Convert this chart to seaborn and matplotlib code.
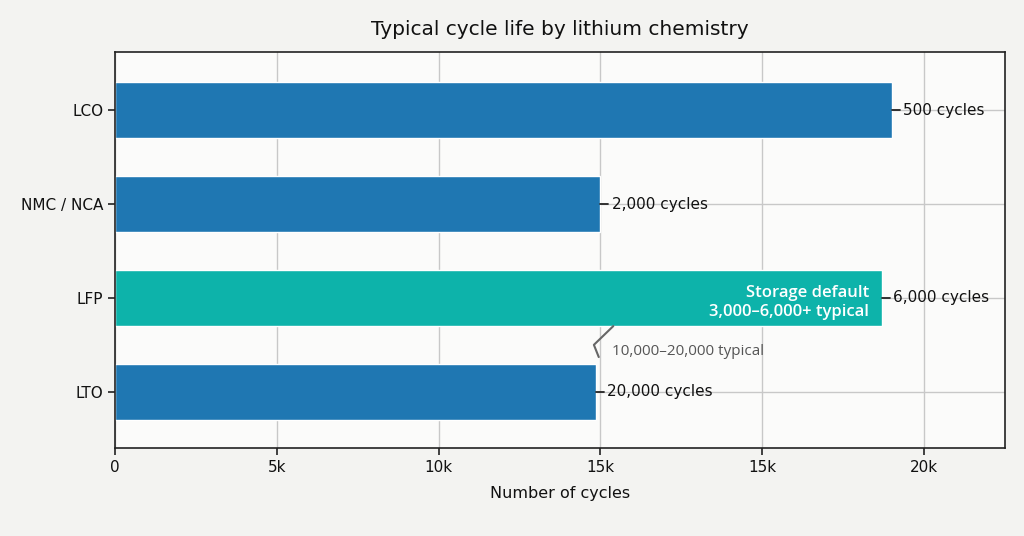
import matplotlib
matplotlib.use("Agg")
import matplotlib.pyplot as plt
import seaborn as sns
import pandas as pd

chemistries = ["LCO", "NMC / NCA", "LFP", "LTO"]
bar_lengths = [24000, 15000, 23700, 14850]
value_labels = ["500 cycles", "2,000 cycles", "6,000 cycles", "20,000 cycles"]
tick_values = [0, 5000, 10000, 15000, 20000, 25000]
tick_labels = ["0", "5k", "10k", "15k", "15k", "20k"]
highlight = "LFP"
inside_note = "Storage default\n3,000\u20136,000+ typical"
lto_note = "10,000\u201320,000 typical"

df = pd.DataFrame({"chem": chemistries, "len": bar_lengths})
blue = "#1f77b2"
teal = "#0db3aa"
palette = {c: (teal if c == highlight else blue) for c in chemistries}

sns.set_style("whitegrid")
plt.rcParams["font.family"] = ["DejaVu Sans"]
plt.rcParams["text.color"] = "#111111"
plt.rcParams["axes.labelcolor"] = "#111111"
plt.rcParams["xtick.color"] = "#111111"
plt.rcParams["ytick.color"] = "#111111"

fig = plt.figure(figsize=(10.24, 5.36), dpi=100, facecolor="#f3f3f1")
ax = fig.add_axes([0.1123, 0.164, 0.869, 0.739])
ax.set_facecolor("#fbfbfa")

sns.barplot(data=df, y="chem", x="len", hue="chem", palette=palette,
            orient="h", width=0.6, legend=False, ax=ax, saturation=1)

ax.set_xlim(0, 27500)
ax.set_ylim(3.6, -0.62)
ax.set_xticks(tick_values)
ax.set_xticklabels(tick_labels, fontsize=11)
ax.tick_params(axis="y", labelsize=11, length=5, width=1.2, left=True, color="#222222")
ax.tick_params(axis="x", length=5, width=1.2, bottom=True, color="#222222")
ax.set_xlabel("Number of cycles", fontsize=11.5, labelpad=8)
ax.set_ylabel("")
ax.set_title("Typical cycle life by lithium chemistry", fontsize=14.5, pad=12,
             color="#111111")
ax.grid(True, color="#c8c8c8", linewidth=1)
ax.set_axisbelow(True)
for s in ax.spines.values():
    s.set_visible(True)
    s.set_color("#222222")
    s.set_linewidth(1.2)

for i, (length, lab) in enumerate(zip(bar_lengths, value_labels)):
    ax.plot([length, length + 250], [i, i], color="#222222", lw=1.3, zorder=4)
    ax.text(length + 350, i, lab, va="center", ha="left", fontsize=11,
            color="#111111", zorder=5)

li = chemistries.index(highlight)
ax.text(bar_lengths[li] - 400, li + 0.05, inside_note, ha="right", va="center",
        color="white", fontsize=12, fontweight="semibold", linespacing=1.2,
        family=["Open Sans", "DejaVu Sans"], zorder=5)

ti = chemistries.index("LTO")
x0 = bar_lengths[ti]
ax.plot([x0 + 550, x0 - 50, x0 + 100], [li + 0.3, li + 0.5, li + 0.63],
        color="#666666", lw=1.5, zorder=4)
ax.text(x0 + 500, li + 0.57, lto_note, ha="left", va="center",
        color="#555555", fontsize=11, family=["Open Sans", "DejaVu Sans"], zorder=5)

fig.savefig("out.png", dpi=100, facecolor=fig.get_facecolor())
